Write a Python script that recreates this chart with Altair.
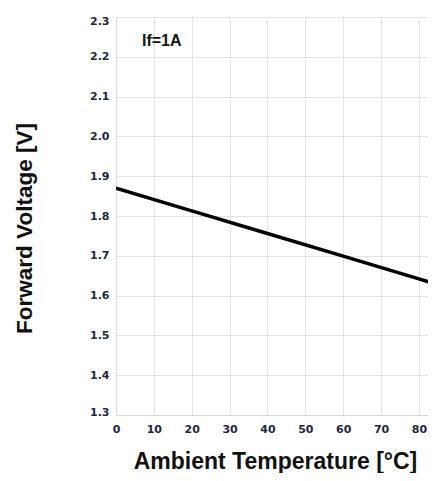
import altair as alt
import pandas as pd

temps = [0, 20, 40, 60, 80, 85]
vf = [1.870, 1.813, 1.756, 1.699, 1.642, 1.628]
x_ticks = [0, 10, 20, 30, 40, 50, 60, 70, 80]
y_ticks = [1.3, 1.4, 1.5, 1.6, 1.7, 1.8, 1.9, 2.0, 2.1, 2.2, 2.3]
annotation = ["If=1A"]

df = pd.DataFrame({"temp": temps, "vf": vf})
ann = pd.DataFrame({"label": annotation})

FONT = "Liberation Sans"
TICK_FONT = "DejaVu Sans"
LABEL_COLOR = "#1e2640"

x_enc = alt.X(
    "temp:Q",
    scale=alt.Scale(domain=[0, 82.4], nice=False, zero=False),
    axis=alt.Axis(
        values=x_ticks, title="Ambient Temperature [°C]", format="d",
        labelFont=TICK_FONT, labelFontSize=11, labelFontWeight="bold", labelColor=LABEL_COLOR,
        labelPadding=8, tickSize=0, domainColor="#d8d8d8", labelFlush=False,
        gridColor="#e3e3e3", titleFont=FONT, titleFontSize=23, titleFontWeight="bold",
        titleColor="#111111", titleX=159, titleY=53, titleBaseline="alphabetic",
        titleAlign="center",
    ),
)
y_enc = alt.Y(
    "vf:Q",
    scale=alt.Scale(domain=[1.3, 2.3], nice=False, zero=False),
    axis=alt.Axis(
        values=y_ticks, title="Forward Voltage [V]", format=".1f",
        labelFont=TICK_FONT, labelFontSize=11, labelFontWeight="bold", labelColor=LABEL_COLOR,
        labelPadding=7, tickSize=0, domainColor="#d8d8d8", labelFlush=True,
        labelFlushOffset=2,
        gridColor="#e3e3e3", titleFont=FONT, titleFontSize=22.5, titleFontWeight="bold",
        titleColor="#111111", titleX=-84.5, titleY=211, titleAngle=270,
        titleBaseline="alphabetic", titleAlign="center",
    ),
)

line = alt.Chart(df).mark_line(color="black", strokeWidth=3.5, clip=True).encode(
    x=x_enc, y=y_enc
)

text = alt.Chart(ann).mark_text(
    font=FONT, fontSize=16, fontWeight="bold", color="#111111", align="left",
    baseline="alphabetic",
).encode(text="label:N", x=alt.value(26), y=alt.value(28.7))

chart = (line + text).properties(
    width=312, height=398,
    autosize=alt.AutoSizeParams(type="none"),
    padding={"left": 108, "top": 9, "right": 0, "bottom": 58},
).configure_view(stroke=None)

chart.save("out.html", embed_options={"renderer": "svg", "actions": False})
